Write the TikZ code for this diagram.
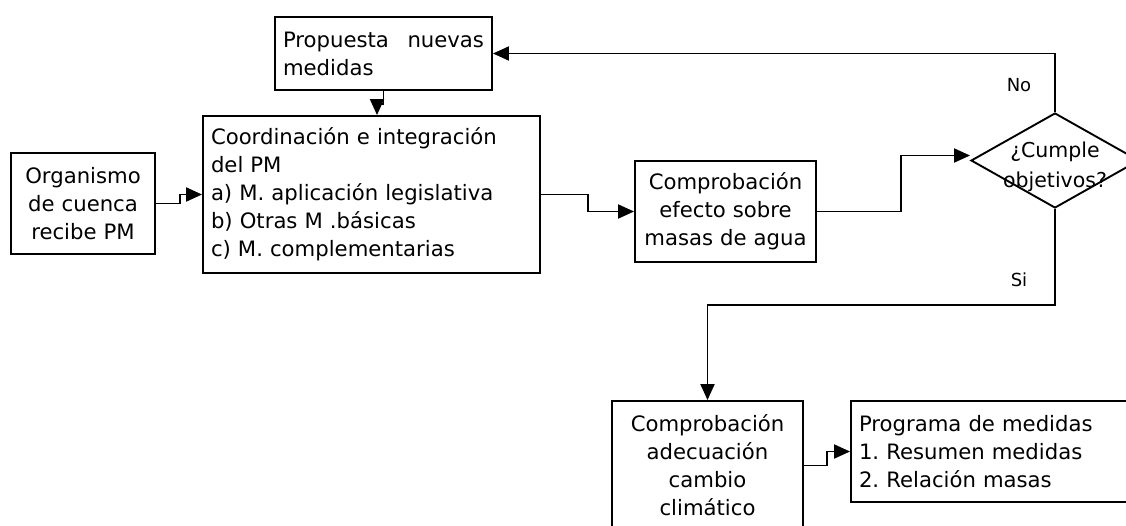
\documentclass[tikz,border=0pt]{standalone}
\usepackage{fontspec}
\setmainfont{DejaVu Sans}
\usetikzlibrary{shapes.geometric,arrows.meta}
\begin{document}
\begin{tikzpicture}[x=1pt,y=-1pt,
  box/.style={draw,line width=1.9pt,rectangle,inner xsep=8pt,inner ysep=0pt,font=\fontsize{21.2}{28}\selectfont\frenchspacing},
  arr/.style={line width=1.9pt,-{Triangle[length=16pt,width=14pt]}},
  lbl/.style={font=\fontsize{18}{21}\selectfont,inner sep=0pt}]
\useasboundingbox (0,0) rectangle (1126,525);
\clip (0,0) rectangle (1126,525);
\node[box,text width=201pt,minimum height=73pt,align=left] (prop) at (383.5,53.5) {Propuesta\hfill nuevas\\medidas};
\node[box,text width=321pt,minimum height=157pt,align=left] (coord) at (371.5,194.5) {Coordinación e integración\\del PM\\a) M. aplicación legislativa\\b) Otras M .básicas\\c) M. complementarias};
\node[box,text width=128pt,minimum height=101pt,align=center] (org) at (83,203.5) {Organismo\\de cuenca\\recibe PM};
\node[box,text width=165pt,minimum height=101pt,align=center] (comp1) at (725.5,211.5) {Comprobación\\efecto sobre\\masas de agua};
\node[draw,line width=1.9pt,diamond,minimum width=168pt,minimum height=95pt,inner sep=0pt] (dia) at (1055,160.5) {};
\node[font=\fontsize{20.5}{30}\selectfont,align=center,inner sep=0pt] (dtxt) at (1055,167) {¿Cumple\\objetivos?};
\node[box,text width=175pt,minimum height=129pt,align=center] (comp2) at (707.5,465.5) {Comprobación\\adecuación\\cambio\\climático};
\node[box,text width=273pt,minimum height=101pt,align=left] (prog) at (995.5,451.5) {Programa de medidas\\1. Resumen medidas\\2. Relación masas};
\node[lbl] (no) at (1019,85.5) {No};
\node[lbl] (si) at (1019,280) {Si};
\draw[arr] (org.east) -- (180,203.5) |- (coord.west);
\draw[arr] (prop.south) -- ++(0,13) -| ([xshift=5.5pt]coord.north);
\draw[arr] (coord.east) -- (588,194.5) |- (comp1.west);
\draw[arr] (comp1.east) -- (901,211.5) |- ([yshift=5pt]dia.west);
\draw[arr] (dia.north) |- (prop.east);
\draw[arr] (dia.south) -- (1055,305) -| (comp2.north);
\draw[arr] (comp2.east) -- (827,465.5) |- (prog.west);
\end{tikzpicture}
\end{document}
